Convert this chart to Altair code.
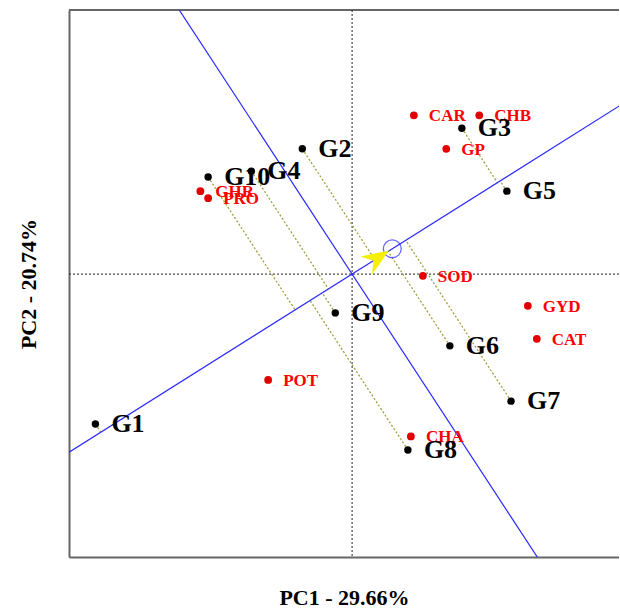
import altair as alt
import numpy as np
import pandas as pd

# Genotype scores on PC1 / PC2
gen_names = ["G1", "G2", "G3", "G4", "G5", "G6", "G7", "G8", "G9", "G10"]
gen_pc1 = [-4.28, -0.83, 1.83, -1.68, 2.58, 1.63, 2.65, 0.93, -0.28, -2.40]
gen_pc2 = [-2.55, 2.13, 2.48, 1.75, 1.41, -1.22, -2.16, -2.99, -0.66, 1.65]

# Trait (environment) scores on PC1 / PC2
env_names = ["CAR", "CHB", "GP", "GHR", "PRO", "SOD", "GYD", "CAT", "POT", "CHA"]
env_pc1 = [1.03, 2.12, 1.57, -2.53, -2.40, 1.18, 2.93, 3.08, -1.40, 0.98]
env_pc2 = [2.70, 2.70, 2.13, 1.41, 1.29, -0.03, -0.54, -1.10, -1.80, -2.76]

# Average environment coordinate (defines the AEC axis)
avg_env = [0.67, 0.43]

X_DOMAIN = [-4.72, 4.45]
Y_DOMAIN = [-4.81, 4.49]
W, H = 550, 547
SERIF = "Liberation Serif"

gen = pd.DataFrame({"name": gen_names, "x": gen_pc1, "y": gen_pc2})
env = pd.DataFrame({"name": env_names, "x": env_pc1, "y": env_pc2})

ae = np.array(avg_env)
perp = np.array([ae[1], -ae[0]])

# Projection of each genotype onto the AEC abscissa
g = gen[["x", "y"]].to_numpy()
t = g @ ae / (ae @ ae)
foot = np.outer(t, ae)
proj = pd.DataFrame({"x": g[:, 0], "y": g[:, 1], "x2": foot[:, 0], "y2": foot[:, 1]})

# AEC abscissa and ordinate, long enough to be clipped by the frame
L = 20.0
aec = pd.DataFrame({
    "x": [-L * ae[0], -L * perp[0]],
    "y": [-L * ae[1], -L * perp[1]],
    "x2": [L * ae[0], L * perp[0]],
    "y2": [L * ae[1], L * perp[1]],
})

avg_pt = pd.DataFrame({"x": [ae[0]], "y": [ae[1]]})
arrow_pt = pd.DataFrame({"x": [0.62 * ae[0]], "y": [0.62 * ae[1]]})

xs = alt.Scale(domain=X_DOMAIN, nice=False, zero=False)
ys = alt.Scale(domain=Y_DOMAIN, nice=False, zero=False)

x_enc = alt.X("x:Q", scale=xs, title="PC1 - 29.66%",
              axis=alt.Axis(labels=False, ticks=False, grid=False, domain=True,
                            domainColor="#666666", domainWidth=2,
                            titleFont=SERIF, titleFontSize=22, titleFontWeight="bold",
                            titleColor="black", titlePadding=30))
y_enc = alt.Y("y:Q", scale=ys, title="PC2 - 20.74%",
              axis=alt.Axis(labels=False, ticks=False, grid=False, domain=True,
                            domainColor="#666666", domainWidth=2,
                            titleFont=SERIF, titleFontSize=22, titleFontWeight="bold",
                            titleColor="black", titlePadding=29))

frame_top = alt.Chart(pd.DataFrame({"k": [0]})).mark_rule(
    color="#666666", strokeWidth=2).encode(y=alt.value(0))

zero_lines = alt.Chart(pd.DataFrame({"v": [0]})).mark_rule(
    color="#222222", strokeDash=[2, 2], strokeWidth=1)
vline = zero_lines.encode(x=alt.X("v:Q", scale=xs))
hline = zero_lines.encode(y=alt.Y("v:Q", scale=ys))

proj_lines = alt.Chart(proj).mark_rule(
    color="#a0a040", strokeDash=[2, 2], strokeWidth=1.3).encode(
    x=x_enc, y=y_enc, x2="x2:Q", y2="y2:Q")

aec_lines = alt.Chart(aec).mark_rule(color="#2a2aff", strokeWidth=1.2, clip=True).encode(
    x=x_enc, y=y_enc, x2="x2:Q", y2="y2:Q")

avg_circle = alt.Chart(avg_pt).mark_point(
    shape="circle", size=320, filled=False, color="#2a2aff", strokeWidth=1.3).encode(
    x=x_enc, y=y_enc)

arrow = alt.Chart(arrow_pt).mark_point(
    shape="M0,-1 L0.75,0.9 L0,0.3 L-0.75,0.9 Z", size=820, filled=True,
    color="#f4f000", opacity=1, angle=57).encode(x=x_enc, y=y_enc)

gen_pts = alt.Chart(gen).mark_circle(size=55, color="black", opacity=1).encode(x=x_enc, y=y_enc)
env_pts = alt.Chart(env).mark_circle(size=60, color="#e00000", opacity=1).encode(x=x_enc, y=y_enc)

gen_txt = alt.Chart(gen).mark_text(
    align="left", baseline="middle", dx=16, dy=0, font=SERIF, fontSize=26,
    fontWeight="bold", color="black").encode(x=x_enc, y=y_enc, text="name:N")
env_txt = alt.Chart(env).mark_text(
    align="left", baseline="middle", dx=15, dy=1, font=SERIF, fontSize=17,
    fontWeight="bold", color="#ff0000").encode(x=x_enc, y=y_enc, text="name:N")

chart = alt.layer(
    frame_top, vline, hline, proj_lines, aec_lines, avg_circle, arrow,
    env_pts, gen_pts, env_txt, gen_txt,
).properties(
    width=W, height=H,
    autosize=alt.AutoSizeParams(type="none"),
    padding={"left": 69, "top": 10, "right": 0, "bottom": 53},
).configure_view(stroke=None).configure(background="white")

chart.save("out.html", embed_options={"renderer": "svg", "actions": False})
